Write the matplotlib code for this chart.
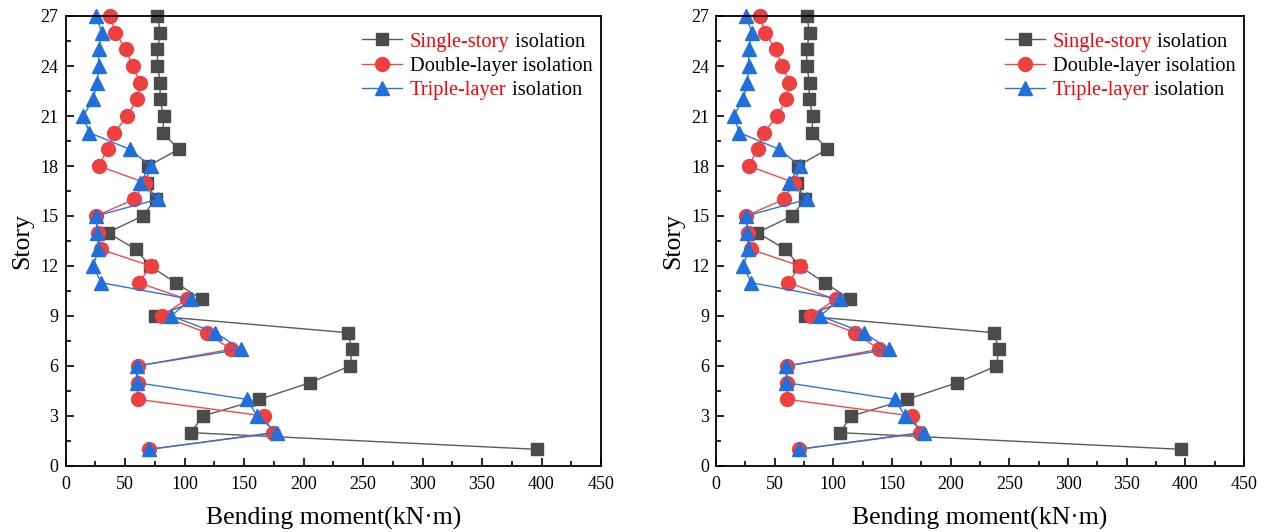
import numpy as np
import matplotlib
matplotlib.use("Agg")
import matplotlib.pyplot as plt
from matplotlib.ticker import MultipleLocator

plt.rcParams['font.family'] = ['Liberation Serif', 'DejaVu Serif']

stories = list(range(1, 28))

# bending moment per story (kN·m), story 1 .. 27
single_story = [396.5, 105.5, 115.3, 163.0, 205.5, 239.0, 241.0, 237.0, 75.5, 114.5,
                92.5, 71.0, 59.2, 35.3, 64.8, 75.8, 68.7, 69.5, 95.0, 81.8,
                82.6, 79.2, 79.8, 77.3, 77.3, 79.8, 77.3]
double_layer = [70.4, 174.0, 167.0, 60.6, 60.6, 60.6, 139.0, 118.6, 80.8, 102.0,
                61.5, 71.8, 29.5, 27.4, 25.6, 57.6, 66.8, 27.9, 35.4, 41.0,
                52.0, 60.0, 62.6, 56.4, 50.8, 41.6, 37.4]
triple_layer = [70.4, 177.5, 161.2, 152.3, 59.8, 59.8, 147.5, 126.0, 88.7, 105.5,
                30.0, 23.4, 27.6, 26.8, 25.6, 77.5, 62.6, 71.6, 54.0, 20.0,
                15.0, 23.1, 26.8, 27.9, 27.9, 30.7, 25.6]

series = [
    ("Single-story", " isolation", "red", single_story, 's', '#4b4b4b', '#5a5a5a', 9.0),
    ("Double-layer isolation", "", "black", double_layer, 'o', '#ef4040', '#ef4a4a', 10.0),
    ("Triple-layer", " isolation", "red", triple_layer, '^', '#1f6fdc', '#2a74de', 10.0),
]

W, H = 1269, 532
fig = plt.figure(figsize=(W / 100, H / 100), dpi=100)
ax_left = fig.add_axes([65.5 / W, 66 / H, (601 - 65.5) / W, 450 / H])
ax_right = fig.add_axes([716 / W, 66 / H, (1244 - 716) / W, 450 / H])

legends = []
for ax in (ax_left, ax_right):
    for lab, rest, tcol, vals, mk, mcol, lcol, ms in series:
        ax.plot(vals, stories, color=lcol, lw=1.0, marker=mk, ms=ms,
                mfc=mcol, mec=mcol, label=lab, clip_on=False)
    ax.set_xlim(0, 450)
    ax.set_ylim(0, 27)
    ax.xaxis.set_major_locator(MultipleLocator(50))
    ax.xaxis.set_minor_locator(MultipleLocator(25))
    ax.yaxis.set_major_locator(MultipleLocator(3))
    ax.yaxis.set_minor_locator(MultipleLocator(1.5))
    ax.tick_params(which='both', direction='in', labelsize=13, width=1.2)
    ax.tick_params(which='major', length=6)
    ax.tick_params(which='minor', length=3.5)
    ax.tick_params(axis='x', which='both', pad=7)
    ax.tick_params(axis='y', which='both', pad=5)
    for sp in ax.spines.values():
        sp.set_linewidth(1.3)
    ax.set_xlabel("Bending moment(kN·m)", fontsize=18.5, labelpad=10)
    ax.set_ylabel("Story", fontsize=18.5, labelpad=5)
    leg = ax.legend(loc='upper right', frameon=False, fontsize=14.7,
                    handlelength=1.95, handletextpad=0.4, labelspacing=0.24,
                    borderaxespad=0.35, bbox_to_anchor=(1.013, 0.998))
    for txt, s in zip(leg.get_texts(), series):
        txt.set_color(s[2])
    legends.append(leg)

# the legend labels are half red, half black: add the black part after layout
fig.canvas.draw()
renderer = fig.canvas.get_renderer()
inv = fig.transFigure.inverted()
for leg in legends:
    for txt, s in zip(leg.get_texts(), series):
        if not s[1]:
            continue
        bb = txt.get_window_extent(renderer)
        x, y = inv.transform((bb.x1, bb.y0))
        fig.text(x, y, s[1], fontsize=14.7, color='black', ha='left', va='bottom')

plt.savefig("out.png", dpi=100)
